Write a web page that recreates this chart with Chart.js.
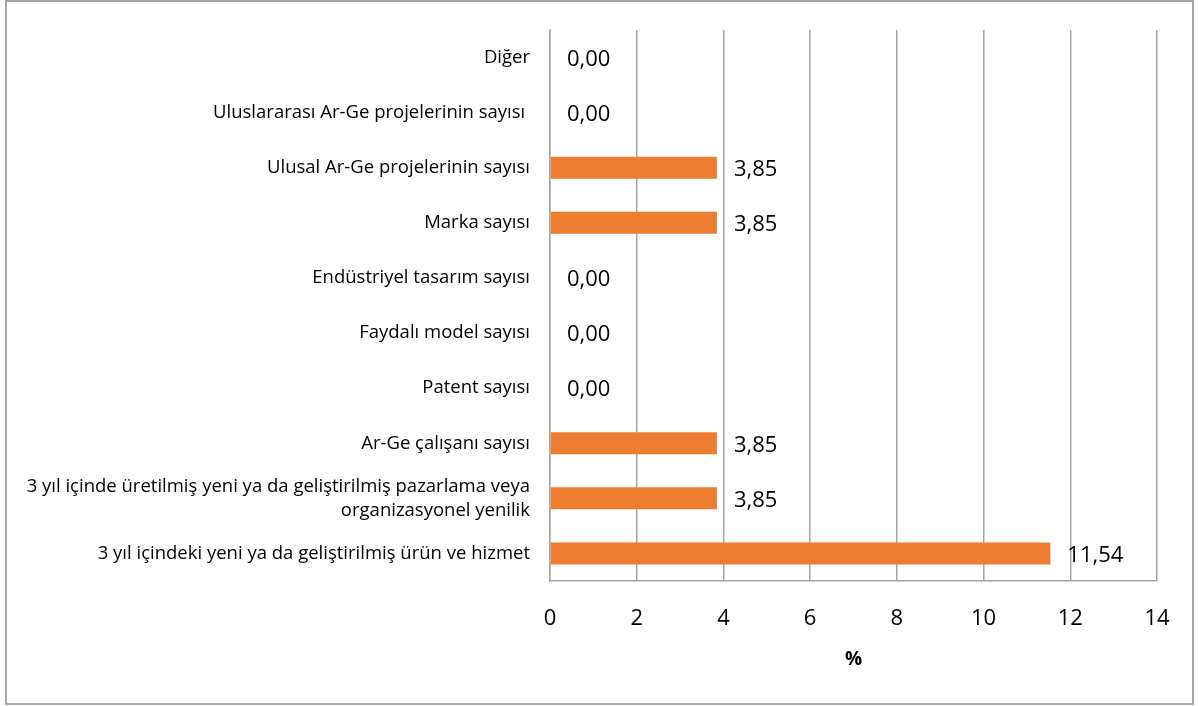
<!DOCTYPE html>
<html>
<head>
<meta charset="utf-8">
<script src="https://cdn.jsdelivr.net/npm/chart.js@4/dist/chart.umd.min.js"></script>
<style>
  html, body { margin: 0; padding: 0; background: #fff; }
  #wrap { position: relative; width: 1198px; height: 706px; }
</style>
</head>
<body>
<div id="wrap"><canvas id="chart" width="1198" height="706"></canvas></div>
<script>
const categories = [
  "Diğer",
  "Uluslararası Ar-Ge projelerinin sayısı ",
  "Ulusal Ar-Ge projelerinin sayısı",
  "Marka sayısı",
  "Endüstriyel tasarım sayısı",
  "Faydalı model sayısı",
  "Patent sayısı",
  "Ar-Ge çalışanı sayısı",
  ["3 yıl içinde üretilmiş yeni ya da geliştirilmiş pazarlama veya", "organizasyonel yenilik"],
  "3 yıl içindeki yeni ya da geliştirilmiş ürün ve hizmet"
];
const values = [0, 0, 3.85, 3.85, 0, 0, 0, 3.85, 3.85, 11.54];
const xTicks = [0, 2, 4, 6, 8, 10, 12, 14];
const axisTitle = "%";

const FONT = "'Open Sans', sans-serif";

// value labels to the right of each bar, decimal comma
const valueLabels = {
  id: "valueLabels",
  afterDatasetsDraw(chart) {
    const ctx = chart.ctx;
    const meta = chart.getDatasetMeta(0);
    ctx.save();
    ctx.font = "22px " + FONT;
    ctx.fillStyle = "#000";
    ctx.textAlign = "left";
    ctx.textBaseline = "middle";
    meta.data.forEach((bar, i) => {
      const txt = values[i].toFixed(2).replace(".", ",");
      ctx.fillText(txt, bar.x + 17, bar.y + 2);
    });
    ctx.restore();
  }
};

// outer frame
const frame = {
  id: "frame",
  beforeDraw(chart) {
    const ctx = chart.ctx;
    ctx.save();
    ctx.fillStyle = "#fff";
    ctx.fillRect(0, 0, chart.width, chart.height);
    ctx.strokeStyle = "#a6a6a6";
    ctx.lineWidth = 2;
    ctx.strokeRect(6, 1, 1187, 703);
    ctx.restore();
  }
};

new Chart(document.getElementById("chart"), {
  type: "bar",
  data: {
    labels: categories,
    datasets: [{
      data: values,
      backgroundColor: "#ED7D31",
      borderWidth: 0,
      barPercentage: 0.4,
      categoryPercentage: 1
    }]
  },
  options: {
    indexAxis: "y",
    responsive: false,
    animation: false,
    layout: { padding: { top: 30, right: 41, left: 0, bottom: 0 } },
    plugins: {
      legend: { display: false },
      tooltip: { enabled: false }
    },
    scales: {
      x: {
        min: 0,
        max: 14,
        afterBuildTicks(scale) {
          scale.ticks = xTicks.map(v => ({ value: v }));
        },
        afterFit(scale) {
          scale.height = 125;
          scale.paddingLeft = 0;
          scale.paddingRight = 0;
        },
        grid: { color: "#a6a6a6", lineWidth: 1.5, drawTicks: false },
        border: { color: "#a6a6a6", width: 1.5 },
        ticks: {
          color: "#000",
          font: { family: FONT, size: 22 },
          padding: 25,
          maxRotation: 0
        },
        title: {
          display: true,
          text: axisTitle,
          color: "#000",
          font: { family: FONT, size: 19, weight: "bold" },
          padding: { top: 0, bottom: 35 }
        }
      },
      y: {
        afterFit(scale) {
          scale.width = 550;
          scale.paddingTop = 0;
          scale.paddingBottom = 0;
        },
        grid: { display: false, drawTicks: false },
        border: { display: true, color: "#a6a6a6", width: 1.5 },
        ticks: {
          color: "#000",
          font: { family: FONT, size: 18.5, lineHeight: 1.3 },
          padding: 20,
          autoSkip: false
        }
      }
    }
  },
  plugins: [frame, valueLabels]
});
</script>
</body>
</html>
